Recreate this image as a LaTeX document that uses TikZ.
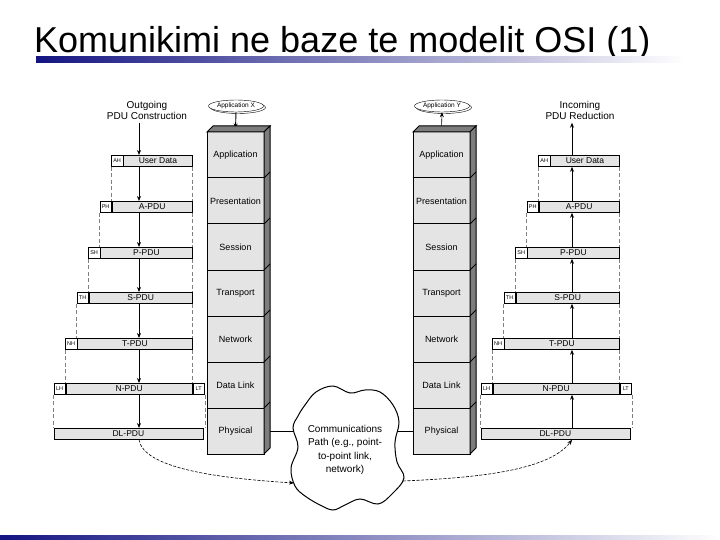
\documentclass[tikz,border=0pt]{standalone}
\usepackage{fontspec}
\setmainfont{Liberation Sans}
\usepackage{tikz}
\usetikzlibrary{arrows.meta, shapes.geometric}

\definecolor{azul}{RGB}{20,20,130}
\definecolor{gris}{RGB}{228,228,228}
\definecolor{lado}{RGB}{125,125,125}

\begin{document}
\begin{tikzpicture}[>={Stealth[length=5pt,width=4pt]}, x=1pt, y=-1pt,
    capa/.style={draw, line width=1pt, fill=gris, minimum width=57pt, minimum height=46pt, inner sep=0pt, font=\fontsize{9}{10}\selectfont},
    pdu/.style={draw, line width=0.8pt, fill=gris, minimum height=11pt, inner sep=0pt, font=\fontsize{8.5}{9}\selectfont},
    cab/.style={draw, line width=0.8pt, fill=white, minimum width=11.5pt, minimum height=11pt, inner sep=0pt, font=\fontsize{5.5}{6}\selectfont},
    guia/.style={dash pattern=on 4pt off 2.5pt, gray, line width=0.6pt},
    curva/.style={->, dash pattern=on 3pt off 1.5pt, line width=0.6pt},
    app/.style={draw, ellipse, fill=white, minimum width=55pt, minimum height=12pt, inner sep=0pt, font=\fontsize{6.5}{7}\selectfont},
    titcol/.style={align=center, font=\fontsize{10}{11}\selectfont}]
  \useasboundingbox (0,0) rectangle (720,540);
  % Titulo
  \node[anchor=base west, font=\fontsize{36}{40}\selectfont, inner sep=0pt] (titulo) at (34,53) {Komunikimi ne baze te modelit OSI (1)};
  \shade[left color=azul, right color=white] (36,57) rectangle (685,63);
  \shade[left color=azul, right color=white] (0,535) rectangle (720,540);

  % Pilas OSI
  \foreach \s/\xc in {X/235.5, Y/441.5} {
    \foreach \n/\t [count=\i from 0] in {app/Application, pre/Presentation, ses/Session, tra/Transport, net/Network, dat/Data Link, phy/Physical}
      \node[capa] (\s-\n) at (\xc, 155+46*\i) {\t};
  }

  % Aplicaciones
  \draw (238,107.5) ellipse [x radius=27.5, y radius=6];
  \draw (444,107.5) ellipse [x radius=27.5, y radius=6];
  \node[app] (appX) at (236,106) {Application X};
  \node[app] (appY) at (442,106) {Application Y};
  \draw[->, line width=0.9pt] (appX.south) -- ([yshift=3pt]X-app.north);
  \draw[->, line width=0.6pt] ([yshift=3pt]Y-app.north) -- (appY.south);

  % Nube
  \draw[line width=1pt, fill=white] plot[smooth cycle, tension=0.6] coordinates {
    (293,428) (298,447) (291,468) (295,486) (305,496) (320,505) (333,510) (345,505)
    (360,499) (378,504) (392,494) (404,478) (397,462) (395,442) (399,422) (393,405)
    (380,392) (365,390) (350,393) (333,386) (316,392) (305,405) (298,416)};
  \node[align=center, font=\fontsize{10}{13.5}\selectfont] (camino) at (345,450)
    {Communications\\Path (e.g., point-\\to-point link,\\network)};
  \coordinate (nube-o) at (293.5,431);
  \coordinate (nube-e) at (398,431);
  \coordinate (nube-so) at (294,483);
  \coordinate (nube-se) at (403,481);
  \draw[line width=1pt] (X-phy.east) -- (nube-o);
  \draw[line width=1pt] (nube-e) -- (Y-phy.west);

  % Caras laterales
  \foreach \xc in {235.5, 441.5} {
    \draw[fill=lado, line width=1pt] (\xc-28.5,132) -- (\xc-22.5,126) -- (\xc+34.5,126) -- (\xc+28.5,132) -- cycle;
    \draw[fill=lado, line width=1pt] (\xc+28.5,132) -- (\xc+34.5,126) -- (\xc+34.5,448) -- (\xc+28.5,454) -- cycle;
    \foreach \k in {1,...,6}
      \draw[line width=0.8pt] (\xc+28.5,132+46*\k) -- ++(6,-6);
  }

  % Columnas de PDU
  \coordinate (L-ax) at (139,0);
  \coordinate (R-ax) at (572,0);
  \node[titcol] (L-tit) at (147,110) {Outgoing\\PDU Construction};
  \node[titcol] (R-tit) at (580,110) {Incoming\\PDU Reduction};
  \foreach \c/\dx in {L/0, R/427} {
    \foreach \n/\h/\t/\xl/\yt in {ud/AH/User Data/111/155, ap/PH/A-PDU/99.5/201, pp/SH/P-PDU/88/247,
        sp/TH/S-PDU/76.5/292, tp/NH/T-PDU/65/338, np/LH/N-PDU/53.5/383} {
      \node[cab, anchor=north west] (\c-\n-h) at (\xl+\dx,\yt) {\h};
      \node[pdu, anchor=north west, minimum width={(191-\xl-11.5)*1pt}] (\c-\n) at (\c-\n-h.north east) {\t};
    }
    \node[cab, anchor=north west] (\c-np-t) at (\c-np.north east) {LT};
    \node[pdu, anchor=north west, minimum width=149pt] (\c-dl) at (53.5+\dx,428) {DL-PDU};
    % guias
    \foreach \a/\b in {ud/ap, ap/pp, pp/sp, sp/tp, tp/np} {
      \draw[guia] (\c-\a-h.south west) -- (\c-\a-h.south west |- \c-\b.north);
      \draw[guia] (\c-\a.south east) -- (\c-\a.south east |- \c-\b.north);
    }
    \draw[guia] (\c-np-h.south west) -- (\c-np-h.south west |- \c-dl.north);
    \draw[guia] (\c-np-t.south east) -- (\c-np-t.south east |- \c-dl.north);
  }
  % flechas
  \draw[->, line width=0.8pt] (L-ax |- L-tit.south) -- (L-ax |- L-ud.north);
  \draw[->, line width=0.8pt] (R-ax |- R-ud.north) -- (R-ax |- R-tit.south);
  \foreach \a/\b in {ud/ap, ap/pp, pp/sp, sp/tp, tp/np, np/dl} {
    \draw[->, line width=0.8pt] (L-ax |- L-\a.south) -- (L-ax |- L-\b.north);
    \draw[->, line width=0.8pt] (R-ax |- R-\b.north) -- (R-ax |- R-\a.south);
  }

  % Envio por el medio
  \draw[curva] (L-ax |- L-dl.south) .. controls (144,468) and (215,478) .. (nube-so);
  \draw[curva] (nube-se) .. controls (470,478) and (548,472) .. (R-ax |- R-dl.south);
\end{tikzpicture}
\end{document}
